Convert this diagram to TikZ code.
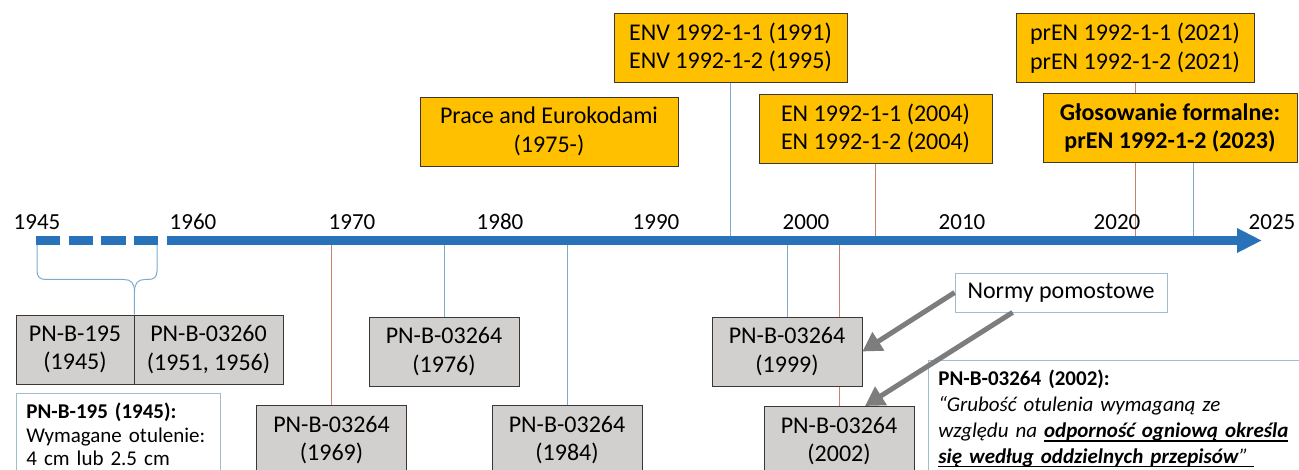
\documentclass[tikz,border=0pt]{standalone}
\usepackage{fontspec}
\setmainfont{Carlito}
\newcommand{\thickul}[1]{\setbox0\hbox{#1}\rlap{\vrule width\wd0 height -2.6pt depth 4.2pt}\box0}
\usetikzlibrary{arrows.meta,calc}
\definecolor{axisblue}{RGB}{40,114,186}
\definecolor{gold}{RGB}{255,192,0}
\definecolor{boxgray}{RGB}{210,207,207}
\definecolor{edge}{RGB}{60,55,50}
\definecolor{lblue}{RGB}{125,170,205}
\definecolor{lred}{RGB}{200,130,110}
\definecolor{arrgray}{RGB}{125,125,125}
\definecolor{noteedge}{RGB}{160,190,210}
\pgfdeclarelayer{bg}
\pgfsetlayers{bg,main}
\begin{document}
\begin{tikzpicture}[x=1pt,y=-1pt,
 goldbox/.style={draw=edge,fill=gold,line width=0.8pt,minimum height=69pt,inner sep=0pt,align=center,font=\fontsize{24}{28.5}\selectfont},
 graybox/.style={draw=edge,fill=boxgray,line width=0.8pt,minimum width=150pt,minimum height=69pt,inner sep=0pt,align=center,font=\fontsize{24}{28.5}\selectfont},
 year/.style={font=\fontsize{23}{23}\selectfont,inner sep=0pt},
 bline/.style={draw=lblue,line width=1pt},
 rline/.style={draw=lred,line width=1pt},
 pointer/.style={draw=arrgray,line width=5pt,-{Triangle[length=19pt,width=21pt]}},
 brace/.style={draw=lblue,line width=1pt},
 note/.style={draw=noteedge,fill=white,line width=0.8pt,align=left,anchor=north west,inner xsep=10pt,inner ysep=10pt}
]
\useasboundingbox (0,0) rectangle (1299,470);
\clip (0,0) rectangle (1299,470);

% axis coordinates
\coordinate (axis) at (0,240.5);
\coordinate (a45) at (36,240.5);
\coordinate (a58) at (158.5,240.5);
\coordinate (a60) at (167,240.5);
\coordinate (aend) at (1262,240.5);

% year labels
\node[year] (y1945) at (37,222) {1945};
\node[year] (y1960) at (193,222) {1960};
\node[year] (y1970) at (352,222) {1970};
\node[year] (y1980) at (500,222) {1980};
\node[year] (y1990) at (656,222) {1990};
\node[year] (y2000) at (806,222) {2000};
\node[year] (y2010) at (962,222) {2010};
\node[year] (y2020) at (1117,222) {2020};
\node[year] (y2025) at (1272,222) {2025};

% top boxes
\node[goldbox, minimum width=233pt] (env) at (730.5,47.5) {ENV 1992-1-1 (1991)\\ENV 1992-1-2 (1995)};
\node[goldbox, minimum width=258pt] (prace) at (549,131.5) {Prace and Eurokodami\\(1975-)};
\node[goldbox, minimum width=233pt] (en) at (875.5,128.5) {EN 1992-1-1 (2004)\\EN 1992-1-2 (2004)};
\node[goldbox, minimum width=238pt] (pren) at (1135,48) {prEN 1992-1-1 (2021)\\prEN 1992-1-2 (2021)};
\node[goldbox, minimum width=254pt, font=\bfseries\fontsize{24}{28.5}\selectfont] (glos) at (1170,128) {Głosowanie formalne:\\prEN 1992-1-2 (2023)};

% bottom boxes
\node[graybox, minimum width=118pt] (p195) at (75,349.5) {PN-B-195\\(1945)};
\node[graybox, minimum width=149pt] (p3260) at (208.5,349.5) {PN-B-03260\\(1951, 1956)};
\node[graybox, anchor=north] (b1969) at (331.5,405) {PN-B-03264\\(1969)};
\node[graybox] (b1976) at (444,351.5) {PN-B-03264\\(1976)};
\node[graybox, anchor=north] (b1984) at (567,405) {PN-B-03264\\(1984)};
\node[graybox] (b1999) at (787,351.5) {PN-B-03264\\(1999)};
\node[graybox, anchor=north] (b2002) at (839,406) {PN-B-03264\\(2002)};

\node[draw=noteedge, fill=white, line width=0.8pt, minimum width=212pt, minimum height=39pt, inner sep=0pt, font=\fontsize{24}{28}\selectfont] (nor) at (1061,292.5) {Normy pomostowe};

\node[note, text width=184pt, font=\fontsize{21}{23.5}\selectfont] (n195) at (16,393)
 {\textbf{PN-B-195 (1945):}\\Wymagane otulenie:\\4 cm lub 2.5 cm};
\node[note, text width=380pt, font=\fontsize{21}{25.7}\selectfont] (n2002) at (928,360)
 {\textbf{PN-B-03264 (2002):}\\
  \textit{“Grubość otulenia wymaganą ze}\\
  \textit{względu na \thickul{\textbf{odporność ogniową określa}}}\\
  \textit{\thickul{\textbf{się według oddzielnych przepisów}\kern1pt”\kern6pt}}};

% connector lines (background)
\begin{pgfonlayer}{bg}
\draw[bline] (env.south) -- (env.south |- axis);
\draw[rline] (en.south) -- (en.south |- axis);
\draw[rline] (pren.south) -- (pren.south |- axis);
\coordinate (gl) at ($(glos.south west)+(151,0)$);
\draw[bline] (gl) -- (gl |- axis);
\draw[rline] (b1969.north) -- (b1969.north |- axis);
\draw[bline] (b1976.north) -- (b1976.north |- axis);
\draw[bline] (b1984.north) -- (b1984.north |- axis);
\draw[bline] (b1999.north) -- (b1999.north |- axis);
\draw[rline] (b2002.north) -- (b2002.north |- axis);
\end{pgfonlayer}

% axis
\draw[axisblue, line width=9pt, dash pattern=on 24.4pt off 8.2pt] (a45) -- (a58);
\draw[axisblue, line width=9pt, -{Triangle[length=25pt,width=23pt]}] (a60) -- (aend);

% brace
\draw[brace] (37,245) -- (37,271) .. controls (37,277) and (40,279.5) .. (46,279.5) -- (124,279.5) .. controls (131,279.5) and (134.5,283) .. (134.5,292) -- (p195.north east);
\draw[brace] (157,245) -- (157,271) .. controls (157,277) and (154,279.5) .. (148,279.5) -- (145,279.5) .. controls (138,279.5) and (134.5,283) .. (134.5,292);

% pointers
\coordinate (s2) at ($(nor.south west)+(58,0)$);
\coordinate (t2) at ($(b2002.north)+(26,0)$);
\draw[pointer] (nor.west) -- (b1999.east);
\draw[pointer] (s2) -- (t2);
\end{tikzpicture}
\end{document}
